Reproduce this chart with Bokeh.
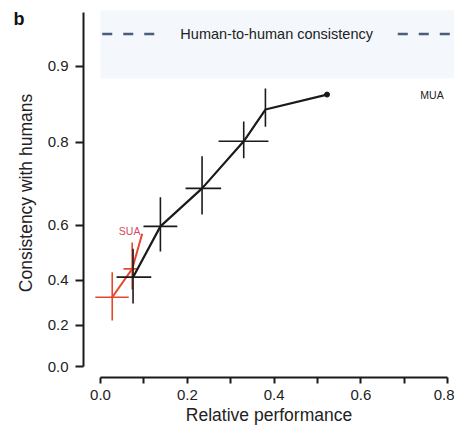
import numpy as np
from bokeh.plotting import figure
from bokeh.models import FixedTicker, Label, Range1d, LinearAxis
from bokeh.embed import file_html
from bokeh.resources import INLINE

# ---- data ----
mua_perf = [0.075, 0.138, 0.234, 0.330, 0.380, 0.522]
mua_cons = [0.412, 0.596, 0.703, 0.802, 0.851, 0.870]
mua_perf_lo = [0.037, 0.099, 0.196, 0.272, 0.380, 0.522]
mua_perf_hi = [0.117, 0.177, 0.278, 0.387, 0.380, 0.522]
mua_cons_lo = [0.299, 0.511, 0.632, 0.770, 0.826, 0.870]
mua_cons_hi = [0.521, 0.680, 0.774, 0.834, 0.877, 0.870]

sua_perf = [0.027, 0.073, 0.096]
sua_cons = [0.327, 0.445, 0.572]
sua_perf_lo = [-0.012, 0.053, 0.096]
sua_perf_hi = [0.065, 0.085, 0.096]
sua_cons_lo = [0.222, 0.360, 0.572]
sua_cons_hi = [0.432, 0.543, 0.572]

human_cons = 0.926
human_band = [0.888, 0.941]
human_dash_left = [0.004, 0.127]
human_dash_right = [0.685, 0.805]

y_ticks = [0.0, 0.2, 0.4, 0.6, 0.8, 0.9]
x_ticks = [0.0, 0.2, 0.4, 0.6, 0.8]
x_minor = [0.1, 0.3, 0.5, 0.7]

z = lambda v: np.arctanh(np.asarray(v, dtype=float))  # Fisher-z axis scale

FONT = "Liberation Sans"
BLACK = "#1a1a1a"
RED = "#e5472c"

p = figure(width=454, height=433, output_backend="svg", toolbar_location=None,
           x_range=Range1d(-0.0392, 0.8157), y_range=Range1d(-0.0539, 1.755),
           min_border_left=83, min_border_right=0, min_border_top=8,
           min_border_bottom=56)
p.outline_line_color = None
p.xgrid.visible = False
p.ygrid.visible = False
p.background_fill_color = "white"

# human-to-human band and line
p.quad(left=0.0, right=0.83, bottom=float(z(human_band[0])), top=float(z(human_band[1])),
       fill_color="#f4f7fb", line_color=None)
hz = float(z(human_cons))
for seg in (human_dash_left, human_dash_right):
    p.line(seg, [hz, hz], line_color="#4b5d7a", line_width=2.5, line_dash="10 11")
p.add_layout(Label(x=0.184, y=hz, text="Human-to-human consistency",
                   text_font=FONT, text_font_size="14.5px", text_color="#222222",
                   text_align="left", text_baseline="middle"))

# SUA
p.segment(sua_perf_lo, z(sua_cons), sua_perf_hi, z(sua_cons), line_color=RED, line_width=1.6)
p.segment(sua_perf, z(sua_cons_lo), sua_perf, z(sua_cons_hi), line_color=RED, line_width=1.6)
p.line(sua_perf, z(sua_cons), line_color=RED, line_width=2)

# MUA
p.segment(mua_perf_lo, z(mua_cons), mua_perf_hi, z(mua_cons), line_color=BLACK, line_width=1.6)
p.segment(mua_perf, z(mua_cons_lo), mua_perf, z(mua_cons_hi), line_color=BLACK, line_width=1.6)
p.line(mua_perf, z(mua_cons), line_color=BLACK, line_width=2.2)
p.scatter([mua_perf[-1]], [float(z(mua_cons[-1]))], size=5, color=BLACK)

p.add_layout(Label(x=0.737, y=float(z(0.870)), text="MUA", text_font=FONT,
                   text_font_size="10.5px", text_color="#222222",
                   text_align="left", text_baseline="middle"))
p.add_layout(Label(x=0.067, y=float(z(0.580)), text="SUA", text_font=FONT,
                   text_font_size="10.5px", text_color="#d8475c",
                   text_align="center", text_baseline="middle"))

# axes
yt = [float(v) for v in z(y_ticks)]
p.yaxis.ticker = FixedTicker(ticks=yt)
p.yaxis.major_label_overrides = {t: f"{v:.1f}" for t, v in zip(yt, y_ticks)}
p.yaxis.bounds = (0, 1.735)
p.xaxis.ticker = FixedTicker(ticks=x_ticks, minor_ticks=x_minor)
p.xaxis.major_label_overrides = {t: f"{t:.1f}" for t in x_ticks}
p.xaxis.bounds = (0, 0.8)

for ax in (p.xaxis[0], p.yaxis[0]):
    ax.axis_line_width = 2
    ax.axis_line_color = BLACK
    ax.major_tick_line_width = 2
    ax.major_tick_line_color = BLACK
    ax.minor_tick_line_width = 2
    ax.minor_tick_line_color = BLACK
    ax.major_tick_in = 0
    ax.minor_tick_in = 0
    ax.major_label_text_font = FONT
    ax.major_label_text_font_size = "15px"
    ax.major_label_text_color = "#222222"
    ax.axis_label_text_font = FONT
    ax.axis_label_text_font_size = "17.5px"
    ax.axis_label_text_font_style = "normal"
    ax.axis_label_text_color = "#222222"

p.xaxis.major_tick_out = 6
p.xaxis.minor_tick_out = 6
p.xaxis.major_label_standoff = 6
p.xaxis.axis_label = "Relative performance"
p.xaxis.axis_label_standoff = 2

p.yaxis.major_tick_out = 8
p.yaxis.minor_tick_out = 0
p.yaxis.minor_tick_line_color = None
p.yaxis.major_label_standoff = 7
p.yaxis.axis_label = "Consistency with humans"
p.yaxis.axis_label_standoff = 9

# panel letter "b" as an outer, line-less axis label
b_pos = float(z(0.936))
b_axis = LinearAxis(ticker=FixedTicker(ticks=[b_pos], minor_ticks=[]),
                    major_label_overrides={b_pos: "b"},
                    axis_line_color=None, major_tick_line_color=None,
                    minor_tick_line_color=None, major_tick_out=0, major_tick_in=0,
                    minor_tick_out=0, minor_tick_in=0,
                    major_label_standoff=-12,
                    major_label_text_font=FONT, major_label_text_font_size="18px",
                    major_label_text_font_style="bold",
                    major_label_text_color="#111111")
p.add_layout(b_axis, "left")

open("out.html", "w").write(file_html(p, INLINE))
